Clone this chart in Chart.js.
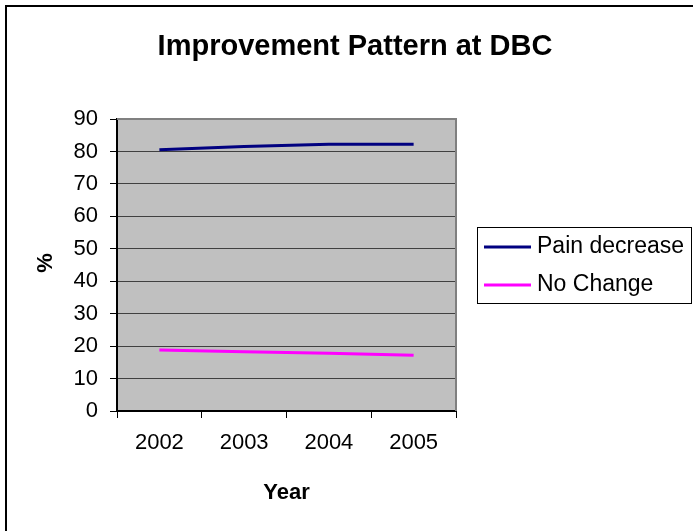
<!DOCTYPE html>
<html>
<head>
<meta charset="utf-8">
<script src="https://cdn.jsdelivr.net/npm/chart.js@4.4.1/dist/chart.umd.min.js"></script>
<style>
  html, body { margin: 0; padding: 0; background: #fff; }
  #wrap { width: 693px; height: 531px; position: relative; }
</style>
</head>
<body>
<div id="wrap"><canvas id="c" width="693" height="531"></canvas></div>
<script>
const YEARS = ['2002', '2003', '2004', '2005'];
const PAIN_DECREASE = [80.5, 81.5, 82.2, 82.2];
const NO_CHANGE = [18.8, 18.3, 17.8, 17.2];
const SERIES_NAMES = ['Pain decrease', 'No Change'];
const TITLE = 'Improvement Pattern at DBC';
const X_TITLE = 'Year';
const Y_TITLE = '%';

const FONT = 'Arial, "Liberation Sans", sans-serif';

// plot area background, frame, titles and legend (Excel look)
const excelLook = {
  id: 'excelLook',
  beforeDraw(chart) {
    const { ctx, chartArea: a } = chart;
    ctx.save();
    ctx.fillStyle = '#fff';
    ctx.fillRect(0, 0, chart.width, chart.height);
    ctx.fillStyle = '#c0c0c0';
    ctx.fillRect(a.left, a.top, a.right - a.left, a.bottom - a.top);
    ctx.restore();
  },
  afterDraw(chart) {
    const { ctx, chartArea: a } = chart;
    ctx.save();
    // plot border top/right
    ctx.strokeStyle = '#808080';
    ctx.lineWidth = 2;
    ctx.beginPath();
    ctx.moveTo(a.left, a.top);
    ctx.lineTo(a.right, a.top);
    ctx.lineTo(a.right, a.bottom);
    ctx.stroke();
    // outer frame
    ctx.strokeStyle = '#000';
    ctx.lineWidth = 2;
    ctx.strokeRect(6, 6, 720, 560);
    // titles
    ctx.fillStyle = '#000';
    ctx.textAlign = 'center';
    ctx.textBaseline = 'alphabetic';
    ctx.font = 'bold 29px ' + FONT;
    ctx.fillText(TITLE, 355, 55);
    ctx.font = 'bold 22px ' + FONT;
    ctx.fillText(X_TITLE, (a.left + a.right) / 2, 499);
    ctx.save();
    ctx.translate(46, 263);
    ctx.rotate(-Math.PI / 2);
    ctx.font = 'bold 22px ' + FONT;
    ctx.textBaseline = 'middle';
    ctx.fillText(Y_TITLE, 0, 0);
    ctx.restore();
    // legend
    ctx.strokeStyle = '#000';
    ctx.lineWidth = 1;
    ctx.strokeRect(477.5, 227.5, 214, 76);
    ctx.font = '23px ' + FONT;
    ctx.textAlign = 'left';
    ctx.textBaseline = 'middle';
    chart.data.datasets.forEach((ds, i) => {
      const y = 247 + i * 38;
      ctx.strokeStyle = ds.borderColor;
      ctx.lineWidth = 3;
      ctx.beginPath();
      ctx.moveTo(484, y);
      ctx.lineTo(531, y);
      ctx.stroke();
      ctx.fillText(ds.label, 537, y);
    });
    ctx.restore();
  }
};

new Chart(document.getElementById('c'), {
  type: 'line',
  data: {
    labels: YEARS,
    datasets: [
      { label: SERIES_NAMES[0], data: PAIN_DECREASE, borderColor: '#000080', borderWidth: 3, pointRadius: 0, tension: 0 },
      { label: SERIES_NAMES[1], data: NO_CHANGE, borderColor: '#ff00ff', borderWidth: 3, pointRadius: 0, tension: 0 },
    ],
  },
  options: {
    responsive: false,
    animation: false,
    layout: { padding: { top: 119, right: 237, left: 0, bottom: 0 } },
    plugins: { legend: { display: false }, title: { display: false }, tooltip: { enabled: false } },
    scales: {
      x: {
        offset: true,
        grid: { offset: true, drawOnChartArea: false, tickLength: 7, tickColor: '#000' },
        border: { color: '#000', width: 2 },
        ticks: { color: '#000', font: { family: FONT, size: 22 }, padding: 12, maxRotation: 0 },
        afterFit(s) { s.height = 120; },
      },
      y: {
        min: 0,
        max: 90,
        ticks: { stepSize: 10, color: '#000', font: { family: FONT, size: 22 }, padding: 12 },
        grid: { color: '#404040', tickColor: '#000', tickLength: 7 },
        border: { color: '#000', width: 2 },
        afterFit(s) { s.width = 117; },
      },
    },
  },
  plugins: [excelLook],
});
</script>
</body>
</html>
